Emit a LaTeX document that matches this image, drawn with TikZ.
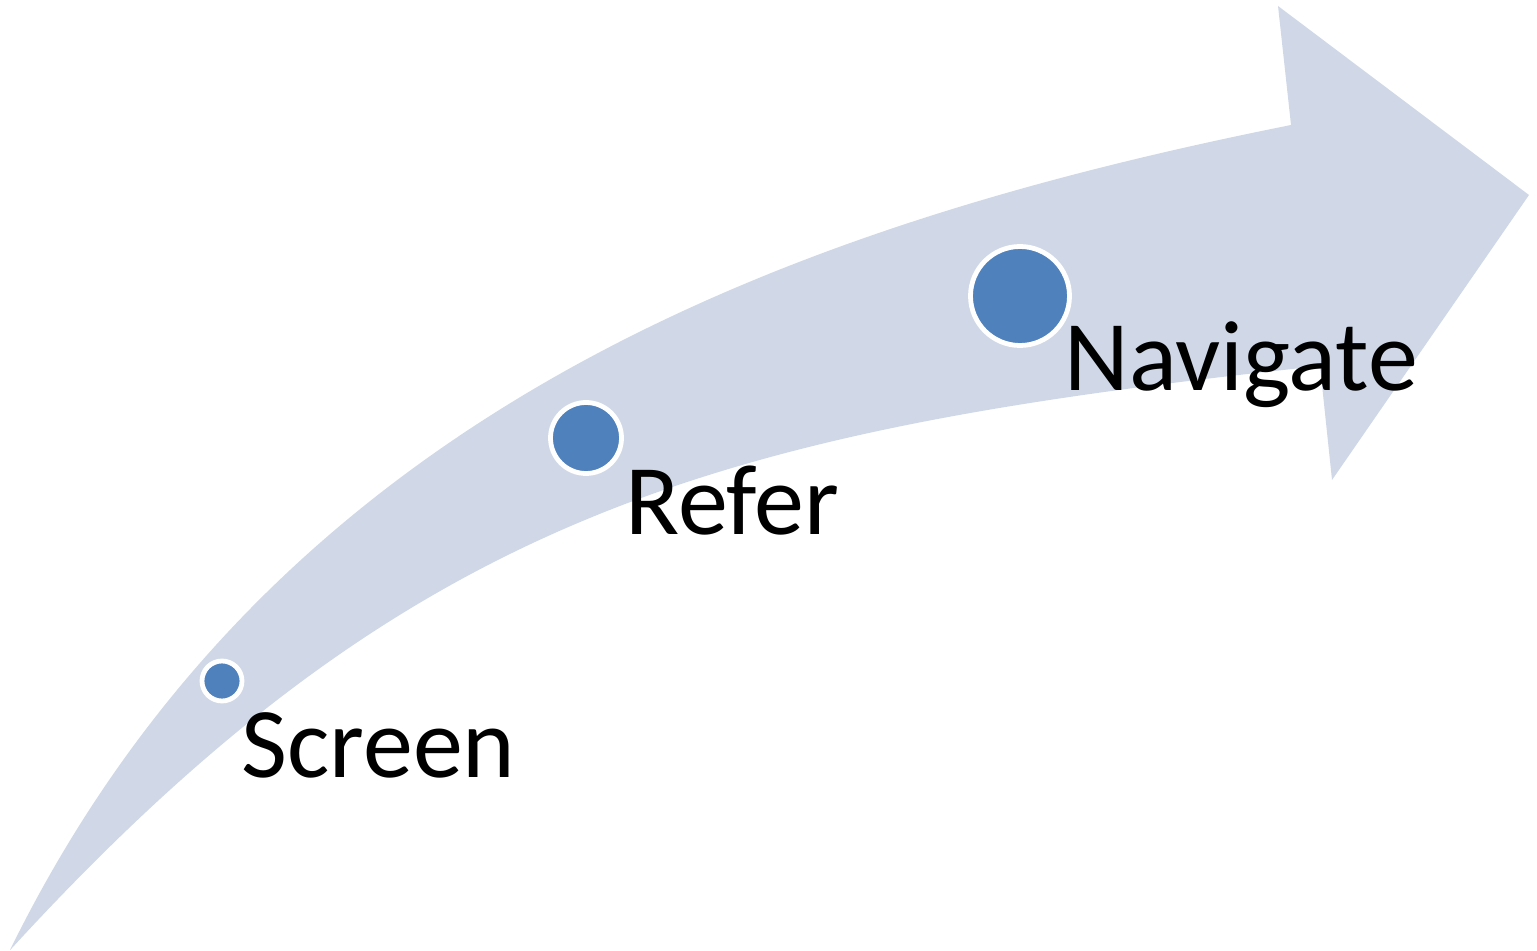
\documentclass[tikz,border=0pt]{standalone}
\usepackage{fontspec}
\setmainfont{Carlito}
\usepackage{tikz}
\usetikzlibrary{positioning}
\definecolor{bandfill}{HTML}{D0D8E7}
\definecolor{dotfill}{HTML}{4F81BD}
\tikzset{band/.style={fill=bandfill, draw=none}}
\tikzset{dot/.style={circle, fill=dotfill, draw=white, line width=2.4pt, inner sep=0pt}}
\tikzset{steplabel/.style={anchor=base west, inner sep=0pt, font=\fontsize{50}{60}\selectfont}}

\begin{document}
\begin{tikzpicture}[x=0.5pt, y=-0.5pt]
    \useasboundingbox (0,0) rectangle (1537,951);
    % curved arrow body and head
    \fill[band] (10,950) .. controls (275,410) and (791,225) .. (1291,125)
        -- (1278,6) -- (1529,195) -- (1332,480) -- (1320,366)
        .. controls (720,430) and (412,512) .. (12,948) -- cycle;
    % the three steps
    \node[dot, minimum size=20pt] (screen) at (222,681) {};
    \node[dot, minimum size=35.5pt] (refer) at (586,438) {};
    \node[dot, minimum size=49.5pt] (navigate) at (1020,296) {};
    \node[steplabel] (screentext) at (241,777) {Screen};
    \node[steplabel] (refertext) at (625,535) {Refer};
    \node[steplabel] (navtext) at (1064,391) {Navigate};
\end{tikzpicture}
\end{document}
